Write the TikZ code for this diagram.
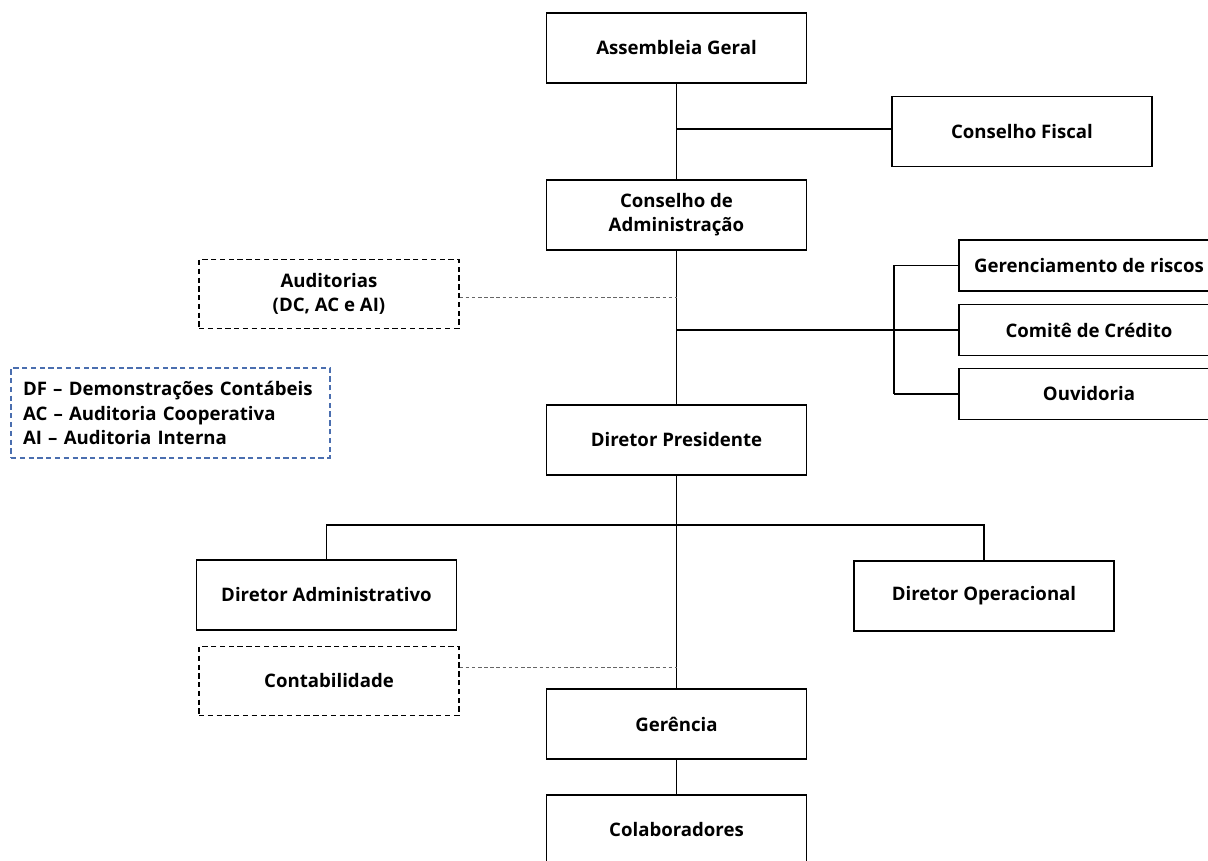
\documentclass[tikz,border=0pt]{standalone}
\usepackage{fontspec}
\setmainfont{Open Sans}
\usepackage{xcolor}
\usetikzlibrary{positioning}
\definecolor{azulleg}{HTML}{4A6EAF}
\tikzset{
  cargo/.style={draw, line width=0.8pt, minimum width=5.2cm, minimum height=1.4cm, align=center, font=\bfseries\fontsize{10.6}{13.5}\selectfont},
  comite/.style={cargo, minimum height=1.02cm},
  apoio/.style={cargo, dash pattern=on 3pt off 2pt, line width=0.7pt, minimum height=1.37cm},
  linha/.style={line width=1.1pt},
  fina/.style={line width=0.6pt},
  pontilhada/.style={gray!80!black, line width=0.5pt, dash pattern=on 2pt off 1.5pt}
}

\begin{document}
\begin{tikzpicture}[x=0.02cm,y=-0.02cm]
\clip (0,0) rectangle (1208,861);
\node[cargo] (ag) at (676.5,48) {Assembleia Geral};
\node[cargo] (cf) at (1022,131.5) {Conselho Fiscal};
\node[cargo] (ca) at (676.5,215) {Conselho de\\Administração};
\node[apoio] (aud) at (329,294) {Auditorias\\(DC, AC e AI)};
\node[comite] (gr) at (1089,265.5) {Gerenciamento de riscos};
\node[comite] (cc) at (1089,330) {Comitê de Crédito};
\node[comite] (ouv) at (1089,394) {Ouvidoria};
\node[draw=azulleg, line width=0.7pt, dash pattern=on 3pt off 2pt, minimum width=6.38cm, minimum height=1.8cm,
  inner xsep=0.24cm, text width=5.9cm, align=left, font=\bfseries\fontsize{10.6}{13.7}\selectfont] (leg) at (170.5,413)
  {DF -- Demonstrações Contábeis\\AC -- Auditoria Cooperativa\\AI -- Auditoria Interna};
\node[cargo] (dp) at (676.5,440) {Diretor Presidente};
\node[cargo] (dadm) at (326.5,595) {Diretor Administrativo};
\node[cargo] (dop) at (984,596) {Diretor Operacional};
\node[apoio] (cont) at (329,681) {Contabilidade};
\node[cargo] (ger) at (676.5,724) {Gerência};
\node[cargo] (col) at (676.5,830) {Colaboradores};
\coordinate (ramo) at (894,330);
\coordinate (barra) at (676.5,525);
% eixo principal
\draw[linha] (ag.south) -- (ca.north);
\draw[linha] (ca.south) -- (dp.north);
\draw[linha] (dp.south) -- (ger.north);
\draw[linha] (ger.south) -- (col.north);
\draw[fina] (ag.south |- 0,129) -- (cf.west |- 0,129);
\draw[pontilhada] (aud.east |- 0,297) -- (ca.south |- 0,297);
\draw[linha] (ca.south |- cc.west) -- (cc.west);
\draw[fina] (ramo |- gr.west) -- (gr.west);
\draw[fina] (ramo |- ouv.west) -- (ouv.west);
\draw[linha] (ramo |- gr.west) -- (ramo |- ouv.west);
% diretores
\draw[fina] (dadm.north) |- (barra) -| (dop.north);
\draw[pontilhada] (cont.east |- 0,667) -- (ger.north |- 0,667);
\end{tikzpicture}
\end{document}
